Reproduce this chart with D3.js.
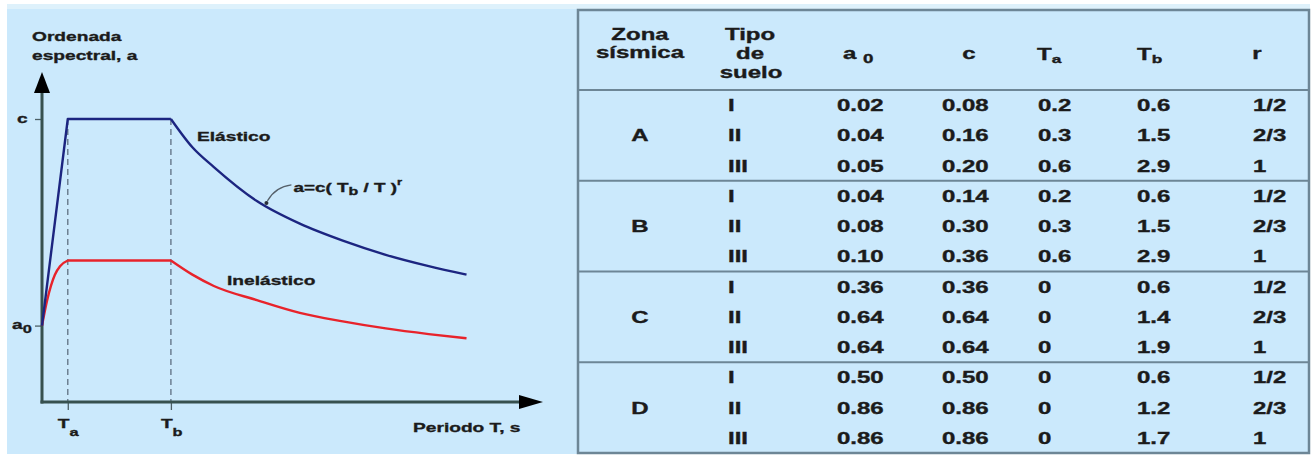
<!DOCTYPE html>
<html><head><meta charset="utf-8">
<script src="https://cdn.jsdelivr.net/npm/d3@7"></script>
<style>html,body{margin:0;padding:0;background:#fff;} svg{display:block;}</style>
</head><body><svg id="c" width="1316" height="455"></svg>
<script>
// ---------- chart data (T in s, a normalised to c = 1) ----------
const elasticT   = [0, 0.3, 1.5, 1.75, 2.0, 2.5, 3.0, 3.5, 4.0, 4.5, 4.94];
const elasticA   = [0.27, 1, 1, 0.90, 0.83, 0.71, 0.63, 0.57, 0.52, 0.48, 0.45];
const inelasticT = [0, 0.06, 0.15, 0.21, 0.3, 1.5, 1.75, 2.0, 2.5, 3.0, 3.5, 4.0, 4.5, 4.94];
const inelasticA = [0.27, 0.36, 0.45, 0.48, 0.5, 0.5, 0.45, 0.41, 0.36, 0.315, 0.285, 0.26, 0.24, 0.225];
const yTickValues = [0.27, 1];          // a0, c
const yTickNames  = [["a","0"], ["c",""]];
const xTickValues = [0.3, 1.5];         // Ta, Tb
const xTickNames  = [["T","a"], ["T","b"]];
const axisMaxT = 5.83, axisMaxA = 1.166;
const formulaAt = [2.6, 0.70];

// ---------- table data ----------
const zones = ["A", "B", "C", "D"];
const soilTypes = ["I", "II", "III"];
const a0Values = [0.02, 0.04, 0.05, 0.04, 0.08, 0.10, 0.36, 0.64, 0.64, 0.50, 0.86, 0.86];
const cValues  = [0.08, 0.16, 0.20, 0.14, 0.30, 0.36, 0.36, 0.64, 0.64, 0.50, 0.86, 0.86];
const taValues = [0.2, 0.3, 0.6, 0.2, 0.3, 0.6, 0, 0, 0, 0, 0, 0];
const tbValues = [0.6, 1.5, 2.9, 0.6, 1.5, 2.9, 0.6, 1.4, 1.9, 0.6, 1.2, 1.7];
const rValues  = ["1/2", "2/3", "1", "1/2", "2/3", "1", "1/2", "2/3", "1", "1/2", "2/3", "1"];

// ---------- drawing ----------
const svg = d3.select("#c");
const FONT = "'Liberation Sans', Arial, Helvetica, sans-serif";
const INK = "#1b1b1b";

svg.append("rect").attr("x", 7).attr("y", 4).attr("width", 1303).attr("height", 450).attr("fill", "#def1fb");
svg.append("rect").attr("x", 7).attr("y", 9).attr("width", 1303).attr("height", 445).attr("fill", "#cbe9fc");

function label(parent, x, y, sx, size, anchor) {
  return parent.append("text")
    .attr("transform", `translate(${x},${y}) scale(${sx},1)`)
    .attr("font-family", FONT).attr("font-weight", "bold")
    .attr("font-size", size).attr("text-anchor", anchor || "start")
    .attr("fill", INK).attr("stroke", INK).attr("stroke-width", 0.35);
}

// ---- chart ----
const CSX = 1.42, CFS = 13.5;
const x = d3.scaleLinear().domain([0, axisMaxT]).range([42, 543]);
const y = d3.scaleLinear().domain([0, 1]).range([402, 119]);
const chart = svg.append("g");
const AX = "#37514f";

// dashed guides
chart.selectAll("line.guide").data(xTickValues).enter().append("line")
  .attr("x1", d => x(d)).attr("x2", d => x(d))
  .attr("y1", y(1)).attr("y2", y(0))
  .attr("stroke", "#66788a").attr("stroke-width", 1.4).attr("stroke-dasharray", "6,4");

// axes ticks via d3 axes
const yAxis = chart.append("g").attr("transform", `translate(${x(0)},0)`)
  .call(d3.axisLeft(y).tickValues(yTickValues).tickSize(7).tickFormat(""));
const xAxis = chart.append("g").attr("transform", `translate(0,${y(0)})`)
  .call(d3.axisBottom(x).tickValues(xTickValues).tickSize(8).tickFormat(""));
[yAxis, xAxis].forEach(g => {
  g.select(".domain").remove();
  g.selectAll(".tick line").attr("stroke", "#4c5f66").attr("stroke-width", 1.3);
});

// axis lines + arrows
const yTip = y(axisMaxA), xTip = x(axisMaxT);
chart.append("line").attr("x1", x(0)).attr("x2", x(0)).attr("y1", y(0) + 1.5).attr("y2", yTip + 15)
  .attr("stroke", AX).attr("stroke-width", 3);
chart.append("line").attr("x1", x(0) - 1.5).attr("x2", xTip - 18).attr("y1", y(0)).attr("y2", y(0))
  .attr("stroke", AX).attr("stroke-width", 3);
chart.append("polygon").attr("points", `${x(0)},${yTip} ${x(0) - 8},${yTip + 21} ${x(0) + 8},${yTip + 21}`).attr("fill", "#000");
chart.append("polygon").attr("points", `${xTip},${y(0)} ${xTip - 24},${y(0) - 7} ${xTip - 24},${y(0) + 7}`).attr("fill", "#000");

// curves
const line = d3.line().x(d => x(d[0])).y(d => y(d[1]));
const ePts = d3.zip(elasticT, elasticA);
const iPts = d3.zip(inelasticT, inelasticA);
const ePath = line.curve(d3.curveLinear)(ePts.slice(0, 3)) + line.curve(d3.curveMonotoneX)(ePts.slice(2));
const iPath = line.curve(d3.curveMonotoneX)(iPts.slice(0, 5)) + line.curve(d3.curveLinear)(iPts.slice(4, 6)) + line.curve(d3.curveMonotoneX)(iPts.slice(5));
chart.append("path").attr("d", iPath).attr("fill", "none").attr("stroke", "#e8232b").attr("stroke-width", 2.4).attr("stroke-linejoin", "round");
chart.append("path").attr("d", ePath).attr("fill", "none").attr("stroke", "#1c2580").attr("stroke-width", 2.4).attr("stroke-linejoin", "round");

// axis labels
label(chart, 32, 41, CSX, CFS).text("Ordenada");
label(chart, 32, 60, CSX, CFS).text("espectral, a");
label(chart, 413, 432, CSX, CFS).text("Periodo T, s");
yTickValues.forEach((v, i) => {
  const [main, sub] = yTickNames[i];
  const tt = label(chart, main === "c" ? 17 : 12, y(v) + 3.5, CSX, CFS);
  tt.append("tspan").text(main);
  if (sub) tt.append("tspan").attr("dy", 4).attr("font-size", 11.5).text(sub);
});
xTickValues.forEach((v, i) => {
  const [main, sub] = xTickNames[i];
  const tt = label(chart, x(v) - 10, 428, CSX, CFS);
  tt.append("tspan").text(main);
  tt.append("tspan").attr("dy", 8).attr("font-size", 11.5).text(sub);
});
label(chart, 197, 141, CSX, CFS).text("Elástico");
label(chart, 227, 285, CSX, CFS).text("Inelástico");

// formula annotation
const fx = x(formulaAt[0]), fy = y(formulaAt[1]);
chart.append("path").attr("d", `M${fx + 26},${fy - 19} Q${fx + 10},${fy - 17} ${fx + 2},${fy - 3}`)
  .attr("fill", "none").attr("stroke", "#55606a").attr("stroke-width", 1.2);
chart.append("circle").attr("cx", fx + 1).attr("cy", fy - 1).attr("r", 2).attr("fill", "#2a2f3a");
const ft = label(chart, fx + 28, fy - 12, 1.45, 13);
ft.append("tspan").text("a=c( T");
ft.append("tspan").attr("dy", 3).attr("font-size", 11).text("b");
ft.append("tspan").attr("dy", -3).text(" / T )");
ft.append("tspan").attr("dy", -7).attr("font-size", 9).text("r");

// ---- table ----
const TSX = 1.5, TFS = 16;
const table = svg.append("g");
const TB = "#6d8696";
const tLeft = 578, tRight = 1309, tTop = 10, tBottom = 453, headBottom = 90;
const rowY = d3.scaleLinear().domain([0, 12]).range([headBottom, tBottom]);

table.append("rect").attr("x", tLeft).attr("y", tTop).attr("width", tRight - tLeft).attr("height", tBottom - tTop)
  .attr("fill", "none").attr("stroke", TB).attr("stroke-width", 2.5);
table.selectAll("line.sep").data([0, 3, 6, 9]).enter().append("line")
  .attr("x1", tLeft).attr("x2", tRight).attr("y1", d => rowY(d)).attr("y2", d => rowY(d))
  .attr("stroke", TB).attr("stroke-width", 2);

// header
label(table, 640, 40, TSX, TFS, "middle").text("Zona");
label(table, 640, 58, TSX, TFS, "middle").text("sísmica");
label(table, 750, 40, TSX, TFS, "middle").text("Tipo");
label(table, 750, 59, TSX, TFS, "middle").text("de");
label(table, 751, 78, TSX, TFS, "middle").text("suelo");
let h = label(table, 843, 59, TSX, TFS); h.append("tspan").text("a "); h.append("tspan").attr("dy", 4).attr("font-size", 12.5).text("0");
label(table, 969, 59, TSX, TFS, "middle").text("c");
h = label(table, 1037, 60, TSX, TFS); h.append("tspan").text("T"); h.append("tspan").attr("dy", 3).attr("font-size", 11.5).text("a");
h = label(table, 1137, 60, TSX, TFS); h.append("tspan").text("T"); h.append("tspan").attr("dy", 3).attr("font-size", 11.5).text("b");
label(table, 1257, 59, TSX, TFS, "middle").text("r");

// body
const f2 = d3.format(".2f"), f1 = d3.format(".1f");
const rows = a0Values.map((a0, i) => ({
  i, soil: soilTypes[i % 3], a0: f2(a0), c: f2(cValues[i]),
  ta: taValues[i] === 0 ? "0" : f1(taValues[i]), tb: f1(tbValues[i]), r: rValues[i]
}));
zones.forEach((z, k) => {
  label(table, 640, (rowY(k * 3) + rowY(k * 3 + 3)) / 2 + 6, TSX, TFS, "middle").text(z);
});
const cols = [["soil", 728], ["a0", 837], ["c", 942], ["ta", 1038], ["tb", 1137], ["r", 1253]];
rows.forEach(r => {
  const yy = rowY(r.i + 0.5) + 6;
  cols.forEach(([key, cx]) => label(table, cx, yy, TSX, TFS).text(r[key]));
});
</script>
</body></html>
